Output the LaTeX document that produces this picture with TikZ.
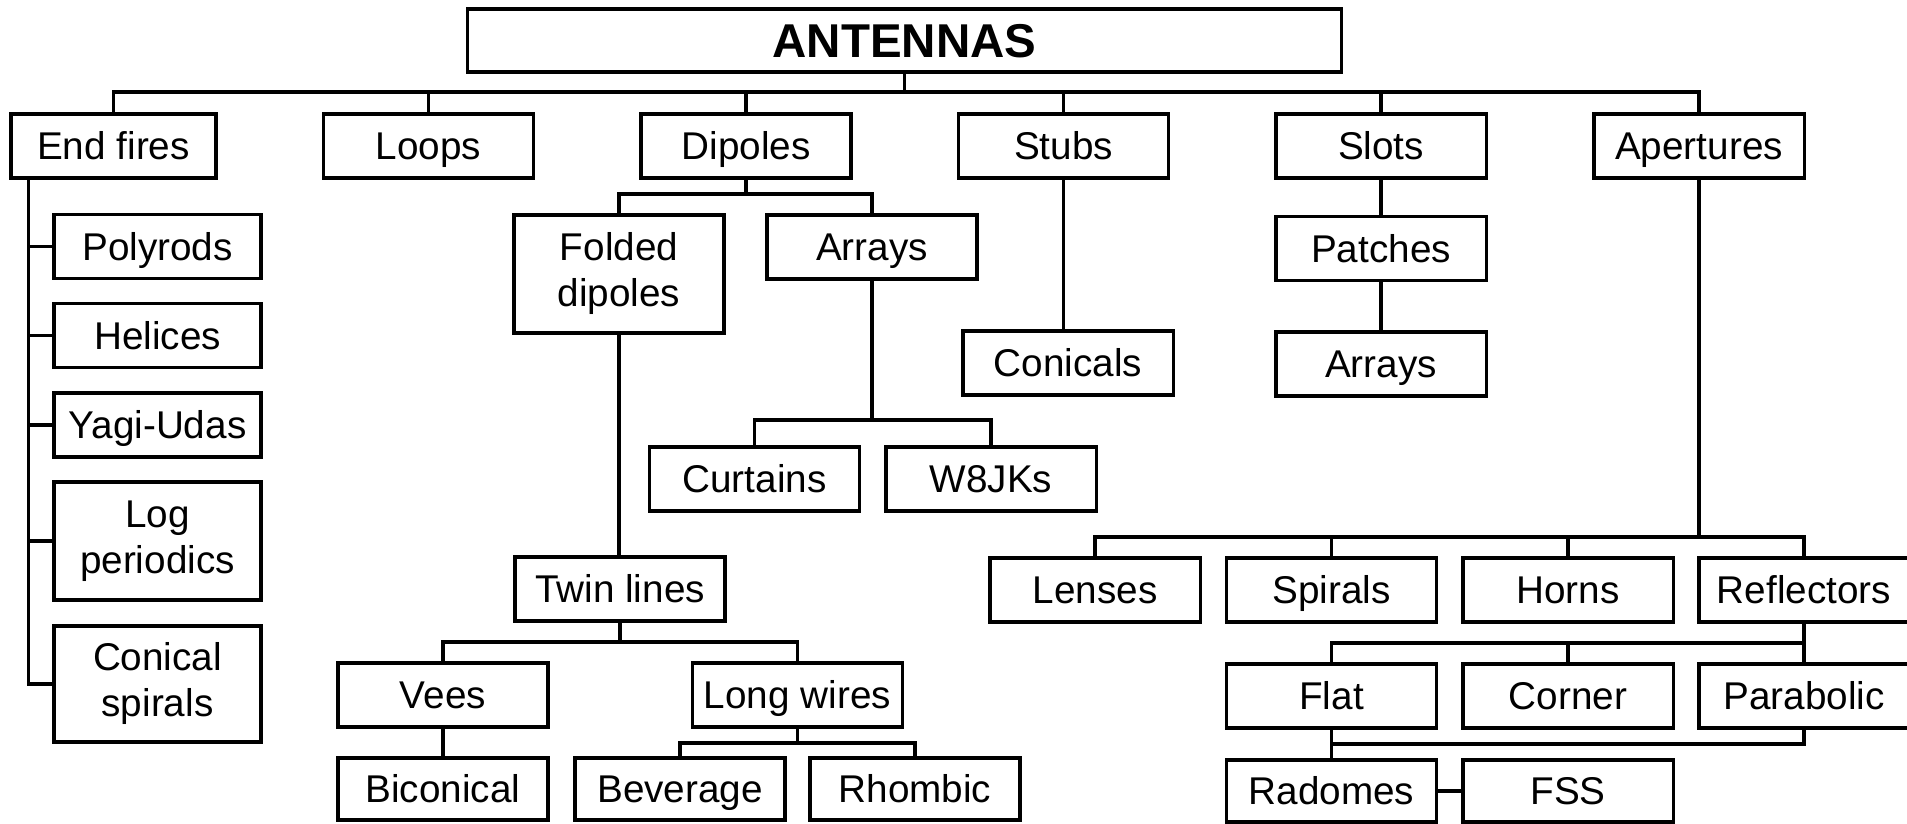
\documentclass[tikz,border=0pt]{standalone}
\usepackage{fontspec}
\setmainfont{Liberation Sans}

\tikzset{
  frame/.style={rectangle, draw, line width=0.9pt, minimum width=2.1cm,
    inner sep=0pt, font=\fontsize{11}{13}\selectfont},
  box/.style={frame, minimum height=0.64cm, text height=7.9pt, text depth=0pt},
  tallbox/.style={frame, minimum height=1.18cm},
  lowbox/.style={box, minimum height=0.62cm},
}

\begin{document}
\begin{tikzpicture}[x=0.01cm, y=-0.01cm, line width=0.9pt]
  \useasboundingbox (0,0) rectangle (1907,823);

  % root
  \node (ant) [box, minimum width=8.73cm, minimum height=0.63cm, text height=9.7pt,
    font=\fontsize{13.5}{16}\selectfont\bfseries] at (904.5,40.5) {ANTENNAS};

  % first level
  \node (ef) [box, minimum width=2.05cm] at (113.5,146) {End fires};
  \node (loop) [box] at (428.5,146) {Loops};
  \node (dip) [box] at (746,146) {Dipoles};
  \node (stub) [box] at (1063.5,146) {Stubs};
  \node (slot) [box] at (1381,146) {Slots};
  \node (aper) [box] at (1699,146) {Apertures};

  \coordinate (topbus) at (904.5,92);
  \draw (ant.south) -- (topbus);
  \draw (ef.north) |- (topbus) -| (aper.north);
  \foreach \n in {loop,dip,stub,slot}
    \draw (\n.north) -- (\n.north |- topbus);

  % end fires
  \node (poly) [box, minimum width=2.07cm] at (157.5,246.5) {Polyrods};
  \node (heli) [box, minimum width=2.07cm] at (157.5,335.5) {Helices};
  \node (yagi) [box, minimum width=2.07cm] at (157.5,425) {Yagi-Udas};
  \node (logp) [tallbox, minimum width=2.07cm] at (157.5,541) {
    \begin{tabular}{c}
      Log \\
      periodics
    \end{tabular}
  };
  \node (cspi) [tallbox, minimum width=2.07cm, minimum height=1.16cm] at (157.5,684) {
    \begin{tabular}{c}
      Conical \\
      spirals
    \end{tabular}
  };

  \coordinate (eftrunk) at ([xshift=0.19cm]ef.south west);
  \draw (eftrunk) |- (cspi.west);
  \foreach \n in {poly,heli,yagi,logp}
    \draw (\n.west) -- (\n.west -| eftrunk);

  % dipoles
  \node (fold) [tallbox] at (619,274) {
    \begin{tabular}{c}
      Folded \\
      dipoles
    \end{tabular}
  };
  \node (darr) [box] at (872,247) {Arrays};
  \coordinate (dipbus) at (746,194);
  \draw (dip.south) -- (dipbus);
  \draw (fold.north) |- (dipbus) -| (darr.north);

  \node (curt) [box] at (754.5,479) {Curtains};
  \node (w8jk) [box] at (991,479) {W8JKs};
  \coordinate (darrbus) at (872,420);
  \draw (darr.south) -- (darrbus);
  \draw (curt.north) |- (darrbus) -| (w8jk.north);

  \node (twin) [box] at (620,589) {Twin lines};
  \draw (fold.south) -- (fold.south |- twin.north);

  \node (vees) [box] at (443,695) {Vees};
  \node (lwir) [box] at (797.5,695) {Long wires};
  \coordinate (twinbus) at (620,642);
  \draw (twin.south) -- (twinbus);
  \draw (vees.north) |- (twinbus) -| (lwir.north);

  \node (bico) [lowbox] at (443,789) {Biconical};
  \draw (vees.south) -- (bico.north);

  \node (beve) [lowbox] at (680,789) {Beverage};
  \node (rhom) [lowbox] at (915,789) {Rhombic};
  \coordinate (lwirbus) at (797.5,743);
  \draw (lwir.south) -- (lwirbus);
  \draw (beve.north) |- (lwirbus) -| (rhom.north);

  % stubs and slots
  \node (coni) [box] at (1068,363) {Conicals};
  \draw (stub.south) -- (stub.south |- coni.north);

  \node (patc) [box] at (1381,248.5) {Patches};
  \node (sarr) [box] at (1381,364) {Arrays};
  \draw (slot) -- (patc);
  \draw (patc) -- (sarr);

  % apertures
  \node (lens) [box] at (1095,590) {Lenses};
  \node (spir) [box] at (1331.5,590) {Spirals};
  \node (horn) [box] at (1568,590) {Horns};
  \node (refl) [box] at (1804,590) {Reflectors};
  \coordinate (aperbus) at (1699,537);
  \draw (aper.south) -- (aperbus);
  \draw (lens.north) |- (aperbus) -| (refl.north);
  \foreach \n in {spir,horn}
    \draw (\n.north) -- (\n.north |- aperbus);

  \node (flat) [box] at (1331.5,696) {Flat};
  \node (corn) [box] at (1568,696) {Corner};
  \node (para) [box] at (1804,696) {Parabolic};
  \coordinate (reflbus) at (1804,643);
  \draw (refl.south) -- (para.north);
  \draw (flat.north) |- (reflbus);
  \draw (corn.north) -- (corn.north |- reflbus);

  \node (radm) [lowbox] at (1331.5,791) {Radomes};
  \node (fss) [lowbox] at (1568,791) {FSS};
  \coordinate (flatbus) at (1331.5,744);
  \draw (flat.south) -- (radm.north);
  \draw (para.south) |- (flatbus);
  \draw (radm) -- (fss);
\end{tikzpicture}
\end{document}
